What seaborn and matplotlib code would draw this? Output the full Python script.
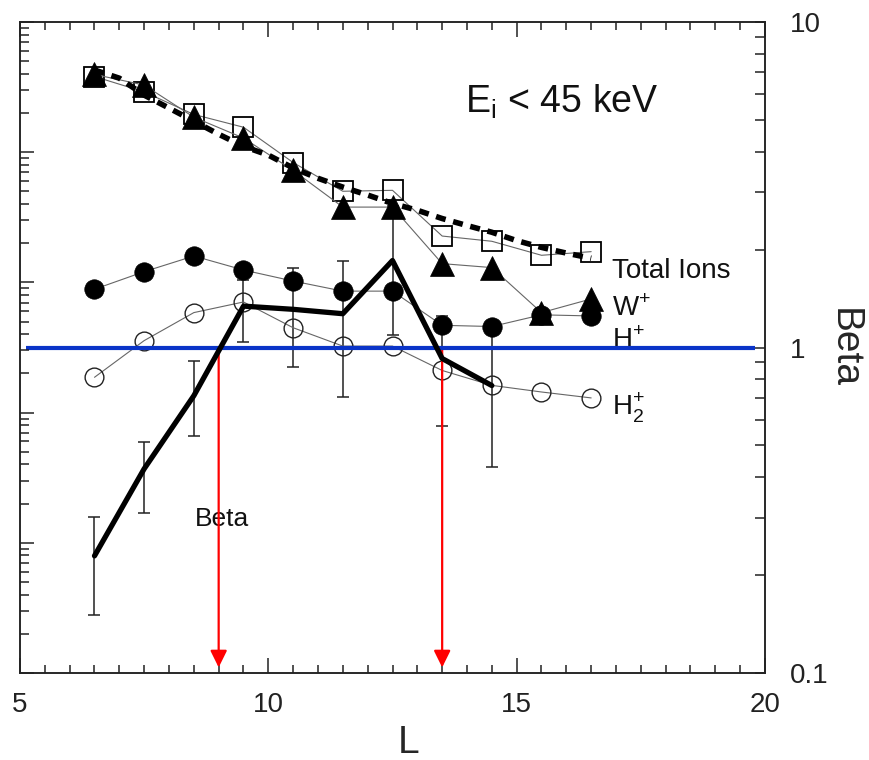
import matplotlib
matplotlib.use("Agg")
import matplotlib.pyplot as plt
from matplotlib.ticker import LogLocator, NullFormatter, MultipleLocator, FixedLocator
import seaborn as sns

# L-shells of the binned measurements
L = [6.5, 7.5, 8.5, 9.5, 10.5, 11.5, 12.5, 13.5, 14.5, 15.5, 16.5]
total_ions = [6.8, 6.1, 5.2, 4.75, 3.7, 3.02, 3.04, 2.2, 2.12, 1.92, 1.97]
w_plus = [6.9, 6.4, 5.1, 4.4, 3.5, 2.7, 2.7, 1.81, 1.76, 1.28, 1.41]
h_plus = [1.51, 1.71, 1.91, 1.73, 1.60, 1.49, 1.49, 1.17, 1.16, 1.26, 1.25]
h2_plus = [0.81, 1.05, 1.28, 1.38, 1.15, 1.01, 1.01, 0.85, 0.765, 0.73, 0.70]

# plasma beta with its spread
L_beta = [6.5, 7.5, 8.5, 9.5, 10.5, 11.5, 12.5, 13.5, 14.5]
beta = [0.229, 0.424, 0.711, 1.34, 1.31, 1.27, 1.85, 0.925, 0.764]
beta_lo = [0.151, 0.311, 0.536, 1.04, 0.874, 0.707, 1.09, 0.575, 0.43]
beta_hi = [0.302, 0.514, 0.906, 1.61, 1.76, 1.84, 2.73, 1.25, 1.16]

# smooth fit to the total ion curve
L_fit = [6.5, 7.0, 7.5, 8.0, 8.5, 9.0, 9.5, 10.0, 10.5, 11.0, 11.5,
         12.0, 12.5, 13.0, 13.5, 14.0, 14.5, 15.0, 15.5, 16.0, 16.5]
total_fit = [7.12, 6.72, 5.96, 5.44, 4.96, 4.52, 4.15, 3.90, 3.56, 3.31, 3.11,
             2.94, 2.77, 2.64, 2.49, 2.37, 2.26, 2.13, 2.03, 1.95, 1.88]

# where beta crosses unity
L_cross = [9.0, 13.5]

sns.set_theme(style="ticks")
plt.rcParams["font.family"] = ["Liberation Sans", "DejaVu Sans"]
plt.rcParams["axes.linewidth"] = 1.1
plt.rcParams["axes.edgecolor"] = "#222222"
plt.rcParams["xtick.color"] = "#222222"
plt.rcParams["ytick.color"] = "#222222"
plt.rcParams["text.color"] = "#111111"

fig = plt.figure(figsize=(8.7, 7.6), dpi=100)
ax = fig.add_axes([20 / 870, 1 - 673 / 760, 745 / 870, 651 / 760])

# left-hand logarithmic frame (five decades, no labels)
axl = ax.twinx()
axl.set_yscale("log")
axl.set_ylim(1, 1e5)
axl.yaxis.tick_left()
axl.yaxis.set_major_locator(LogLocator(base=10, numticks=10))
axl.yaxis.set_minor_locator(LogLocator(base=10, subs=range(2, 10), numticks=20))
axl.yaxis.set_major_formatter(NullFormatter())
axl.yaxis.set_minor_formatter(NullFormatter())
axl.tick_params(axis="y", which="major", direction="in", length=10, width=1.1,
                left=True, right=False, labelleft=False, labelright=False)
axl.tick_params(axis="y", which="minor", direction="in", length=6.5, width=1.1,
                left=True, right=False)

ax.set_yscale("log")
ax.set_xlim(5, 20)
ax.set_ylim(0.1, 10)

line_kw = dict(color="0.4", lw=0.8)

sns.lineplot(x=L, y=total_ions, ax=ax, marker="s", ms=15, mfc="none",
             mec="black", mew=1.3, zorder=3, **line_kw)
sns.lineplot(x=L, y=w_plus, ax=ax, marker="^", ms=17, mfc="black",
             mec="black", mew=0.5, zorder=3, **line_kw)
sns.lineplot(x=L, y=h_plus, ax=ax, marker="o", ms=14, mfc="black",
             mec="black", mew=0.5, zorder=3, **line_kw)
sns.lineplot(x=L, y=h2_plus, ax=ax, marker="o", ms=13.5, mfc="none",
             mec="#222222", mew=1.0, zorder=3, **line_kw)

sns.lineplot(x=L_fit, y=total_fit, ax=ax, color="black", lw=4.0,
             linestyle=(0, (1.8, 1.4)), zorder=4)

# unity level
ax.plot([5.12, 19.8], [1, 1], color="#0a34c8", lw=3.0, zorder=5,
        solid_capstyle="butt")

# beta with asymmetric spread
yerr = [[b - lo for b, lo in zip(beta, beta_lo)],
        [hi - b for b, hi in zip(beta, beta_hi)]]
ax.errorbar(L_beta, beta, yerr=yerr, fmt="none", ecolor="#222222",
            elinewidth=1.1, capsize=4, capthick=1.1, zorder=2.5)
sns.lineplot(x=L_beta, y=beta, ax=ax, color="black", lw=3.8, zorder=6)

for xc in L_cross:
    ax.annotate("", xy=(xc, 0.104), xytext=(xc, 1.0),
                arrowprops=dict(arrowstyle="-|>,head_length=0.85,head_width=0.42",
                                color="red", lw=1.6, shrinkA=0, shrinkB=0,
                                mutation_scale=12),
                zorder=4.5)

# right axis carries the beta scale
ax.yaxis.tick_right()
ax.yaxis.set_major_locator(FixedLocator([0.1, 1, 10]))
ax.set_yticklabels(["0.1", "1", "10"])
ax.yaxis.set_minor_locator(LogLocator(base=10, subs=range(2, 10), numticks=20))
ax.yaxis.set_minor_formatter(NullFormatter())
ax.tick_params(axis="y", which="both", direction="in", length=7, width=1.1,
               left=False, right=True, labelleft=False, labelright=True,
               labelsize=20, pad=18)

ax.set_xticks([5, 10, 15, 20])
ax.xaxis.set_minor_locator(MultipleLocator(0.5))
ax.tick_params(axis="x", which="major", direction="in", length=11, width=1.1,
               top=True, bottom=True, labelsize=20, pad=14)
ax.tick_params(axis="x", which="minor", direction="in", length=6, width=1.1,
               top=True, bottom=True)

ax.set_xlabel("L", fontsize=28)
ax.xaxis.set_label_coords(0.522, -0.08)
ax.set_ylabel("Beta", fontsize=28, rotation=270, va="center")
ax.yaxis.set_label_position("right")
ax.yaxis.set_label_coords(1.13, 0.5)

ax.text(13.96, 5.25, r"E$_\mathregular{i}$ < 45 keV", fontsize=27,
        ha="left", va="baseline")
ax.text(16.92, 1.63, "Total Ions", fontsize=20, ha="left", va="baseline")
ax.text(16.92, 1.246, r"W$^\mathregular{+}$", fontsize=20, ha="left", va="baseline")
ax.text(16.92, 1.0, r"H$^\mathregular{+}$", fontsize=20, ha="left", va="baseline")
ax.text(16.92, 0.622, r"H$_\mathregular{2}^\mathregular{+}$", fontsize=20,
        ha="left", va="baseline")
ax.text(9.07, 0.298, "Beta", fontsize=19, ha="center", va="center")

for sp in ax.spines.values():
    sp.set_linewidth(1.1)

fig.savefig("out.png", dpi=100)
